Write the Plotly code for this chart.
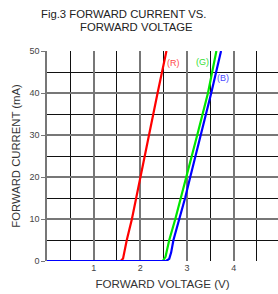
import plotly.graph_objects as go

# Data (forward voltage V, forward current mA)
red_v = [0, 1.58, 1.63, 1.71, 1.82, 1.91, 2.00, 2.19, 2.37, 2.56]
red_i = [0, 0, 0.6, 5, 10, 15, 20, 30, 40, 50]
green_v = [0, 2.48, 2.54, 2.62, 2.75, 2.87, 2.99, 3.22, 3.45, 3.63]
green_i = [0, 0, 1, 5, 10, 15, 20, 30, 40, 50]
blue_v = [0, 2.55, 2.62, 2.66, 2.71, 2.84, 2.96, 3.07, 3.30, 3.52, 3.73]
blue_i = [0, 0, 0.5, 2, 5, 10, 15, 20, 30, 40, 50]

x_ticks = [1, 2, 3, 4]
y_ticks = [0, 10, 20, 30, 40, 50]

labels = ["(R)", "(G)", "(B)"]
label_x = [2.71, 3.34, 3.78]
label_y = [47.1, 47.4, 43.6]
label_colors = ["#ff4a4a", "#33dd33", "#4a4aff"]

FONT = "Liberation Sans, Arial, sans-serif"

fig = go.Figure()
for v, i, c in [(red_v, red_i, "#ff0000"), (green_v, green_i, "#00e600"), (blue_v, blue_i, "#0000ff")]:
    fig.add_trace(go.Scatter(x=v, y=i, mode="lines", line=dict(color=c, width=2.2),
                             cliponaxis=False, showlegend=False, hoverinfo="skip"))

for t, x, y, c in zip(labels, label_x, label_y, label_colors):
    fig.add_annotation(x=x, y=y, text=t, showarrow=False, font=dict(family=FONT, size=9, color=c))

W, H = 278, 294
L, T, B = 47, 51, 33
plot_w = W - L
plot_h = H - T - B
xmax = plot_w / (233.3 / 5)

# tick label "5" at the clipped right edge
fig.add_annotation(xref="paper", yref="paper", x=5 / xmax, y=0, text="5", showarrow=False,
                   xanchor="center", yanchor="top", yshift=-1,
                   font=dict(family=FONT, size=9, color="#444"))

fig.add_annotation(xref="paper", yref="paper", x=(124 - L) / plot_w, y=1 + (T - 14) / plot_h,
                   xanchor="center", yanchor="middle",
                   text="Fig.3 FORWARD CURRENT VS.", showarrow=False,
                   font=dict(family=FONT, size=11.3, color="#222"))
fig.add_annotation(xref="paper", yref="paper", x=(136.5 - L) / plot_w, y=1 + (T - 27) / plot_h,
                   xanchor="center", yanchor="middle",
                   text="FORWARD VOLTAGE", showarrow=False,
                   font=dict(family=FONT, size=11.3, color="#222"))

fig.update_layout(
    width=W, height=H,
    margin=dict(l=L, r=0, t=T, b=B),
    paper_bgcolor="white", plot_bgcolor="white",
    font=dict(family=FONT, size=9, color="#444"),
    xaxis=dict(range=[0, xmax], tickvals=x_ticks, showgrid=True, gridcolor="#777", gridwidth=1.5,
               minor=dict(dtick=0.5, showgrid=True, gridcolor="#111", gridwidth=1),
               zeroline=False, showline=False, ticks="", fixedrange=True,
               title=dict(text="FORWARD VOLTAGE (V)", font=dict(size=11.6, color="#333"), standoff=7),
               automargin=False),
    yaxis=dict(range=[0, 50], tickvals=y_ticks, showgrid=True, gridcolor="#777", gridwidth=1.5,
               minor=dict(dtick=5, showgrid=True, gridcolor="#111", gridwidth=1),
               zeroline=False, showline=True, linecolor="#777", linewidth=1.5,
               ticks="outside", ticklen=4, tickcolor="#777",
               title=dict(text="FORWARD CURRENT (mA)", font=dict(size=11.3, color="#333"), standoff=6),
               automargin=False, fixedrange=True),
)

fig.write_html("out.html", config={"displayModeBar": False},
               post_script="document.body.style.margin='0';")
